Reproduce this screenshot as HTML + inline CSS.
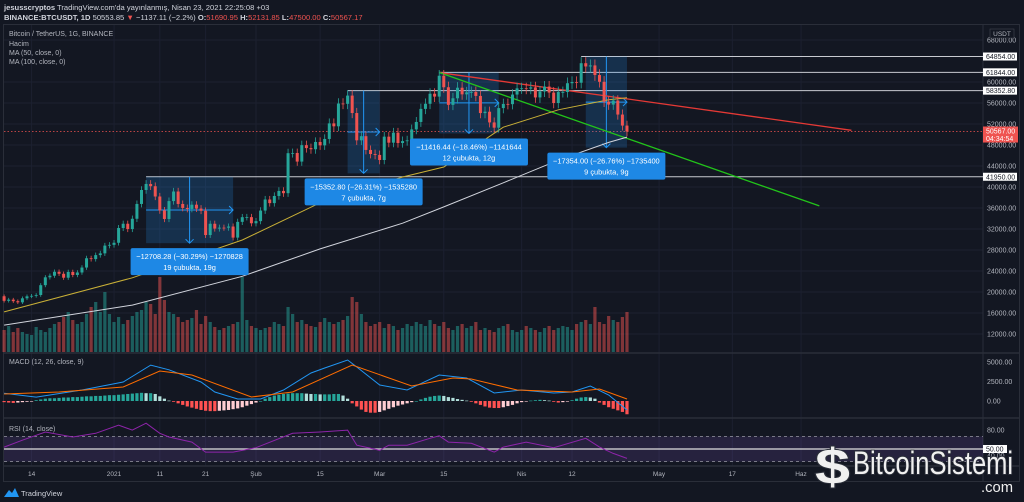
<!DOCTYPE html>
<html><head><meta charset="utf-8"><style>
html,body{margin:0;padding:0;background:#131722;}
svg{display:block;font-family:"Liberation Sans",sans-serif;}
</style></head><body>
<svg id="c" width="1024" height="502" viewBox="0 0 1024 502" xmlns="http://www.w3.org/2000/svg">
<rect x="0" y="0" width="1024" height="502" fill="#131722"/>
<text x="4" y="10" font-size="7.6" fill="#d1d4dc"><tspan font-weight="bold">jesusscryptos</tspan> TradingView.com'da yayınlanmış, Nisan 23, 2021 22:25:08 +03</text>
<text x="4" y="20" font-size="7.6" fill="#d1d4dc"><tspan font-weight="bold">BINANCE:BTCUSDT, 1D</tspan> 50553.85 <tspan fill="#ef5350">▼</tspan> −1137.11 (−2.2%) <tspan font-weight="bold">O:</tspan><tspan fill="#ef5350">51690.95</tspan> <tspan font-weight="bold">H:</tspan><tspan fill="#ef5350">52131.85</tspan> <tspan font-weight="bold">L:</tspan><tspan fill="#ef5350">47500.00</tspan> <tspan font-weight="bold">C:</tspan><tspan fill="#ef5350">50567.17</tspan></text>
<rect x="3.5" y="24.5" width="1016" height="457" fill="none" stroke="#2a2e39"/>
<g id="grid"></g>
<g id="rsiband"></g>
<g id="vol"></g>
<g id="draw"></g>
<g id="ma"></g>
<g id="candles"></g>
<g id="macd"></g>
<g id="rsi"></g>
<g id="labels"></g>
<g id="axis"></g>
<g font-size="7" fill="#b2b5be">
<text x="9" y="36">Bitcoin / TetherUS, 1G, BINANCE</text>
<text x="9" y="46">Hacim</text>
<text x="9" y="55">MA (50, close, 0)</text>
<text x="9" y="64">MA (100, close, 0)</text>
<text x="9" y="364">MACD (12, 26, close, 9)</text>
<text x="9" y="431">RSI (14, close)</text>
</g>
<g>
<path d="M4 497 L9 490 L12 493 L15 488 L19 497 Z" fill="#2196f3"/>
<text x="21" y="496" font-size="7.5" fill="#d1d4dc">TradingView</text>
</g>
<g>
<text x="815" y="484" font-size="50" font-weight="bold" fill="#f0f0f0" stroke="#2a2e39" stroke-width="2" paint-order="stroke" textLength="35" lengthAdjust="spacingAndGlyphs">$</text>
<text x="853" y="474" font-size="32" fill="#f0f0f0" stroke="#2a2e39" stroke-width="2" paint-order="stroke" textLength="160" lengthAdjust="spacingAndGlyphs">BitcoinSistemi</text>
<text x="981" y="492" font-size="15" fill="#f0f0f0" textLength="32" lengthAdjust="spacingAndGlyphs">.com</text>
</g>
</svg>
<script>
// ---- data ----
const closes=[18320,18550,18250,18030,18800,19170,19270,19430,21300,22800,23100,23850,23470,22720,23820,23240,23720,24660,26430,26270,27030,27360,28840,28980,29380,32190,33000,31990,33950,36770,39430,40580,40150,38190,35540,33910,37320,39140,36770,36010,35820,36630,35890,35470,30850,33000,32080,32260,32250,32470,30360,33360,34250,34260,33090,33500,35510,37620,36930,38290,39250,38820,46440,46480,44840,47970,47410,47190,48580,47930,49150,52120,51560,55900,55840,57410,54090,48890,49680,47060,46280,46110,45140,49590,48440,50350,48370,48750,48880,50970,52390,54880,55850,57770,57220,61190,59000,55640,56900,58910,57650,58030,58100,57350,54080,54340,52300,51300,55030,55820,55780,57610,58790,58800,58730,58980,57060,58200,59130,57990,56000,58090,58090,59770,60000,59860,63580,62960,63160,61330,60040,56250,55700,56470,53800,51700,50567];
const firstOpen=19190;
const volumes=[22,26,20,24,20,18,17,25,22,20,24,28,30,35,40,32,28,30,38,45,50,40,60,38,30,35,28,32,36,40,42,50,48,38,75,52,40,38,35,30,32,34,42,28,36,30,25,22,24,26,28,30,75,32,26,24,22,24,25,30,28,26,45,38,30,32,28,26,25,30,34,30,28,30,32,36,55,50,38,30,26,28,30,24,28,26,22,24,28,26,30,28,26,32,28,26,30,24,22,26,28,24,26,30,22,24,22,20,24,26,28,22,20,22,26,24,22,20,24,26,22,24,26,25,22,28,30,32,28,45,30,28,36,32,30,35,40];
const maDays=[0,28,52,69,87,96,109,121,132,136];
const ma50=[16200,22700,29900,37000,41900,43800,51400,54700,56600,57000];
const ma100=[13700,17500,23000,28200,33100,36200,40800,45100,48500,49500];
const macdDays=[0,7,17,26,32,36,43,46,51,56,61,67,70,75,77,82,88,95,101,107,113,120,124,128,132,136];
const macdLine=[1000,500,1410,2440,4600,4000,2440,1150,260,260,1410,3590,4230,5260,4360,2050,1410,3330,2950,1030,1410,1030,1150,1920,770,-1150];
const sigDays=[0,12,26,34,41,54,63,76,89,98,102,112,124,130,136];
const sigLine=[900,1150,1800,3850,3330,510,1150,4610,1920,2950,2820,1410,1150,1540,260];
const hist=[-150,-200,-250,-200,-150,-100,-50,100,200,300,350,350,400,450,450,500,500,550,600,600,650,650,700,750,750,800,850,900,950,1000,1050,1000,1000,900,600,300,50,-100,-300,-500,-700,-850,-1000,-1150,-1250,-1300,-1300,-1250,-1200,-1150,-1050,-950,-800,-600,-400,-200,0,300,500,700,800,900,950,1000,1000,1000,950,900,900,850,850,850,900,900,700,300,-300,-700,-1100,-1400,-1500,-1500,-1400,-1200,-1000,-800,-600,-450,-300,-150,0,200,400,550,650,700,650,500,400,250,150,50,-100,-300,-500,-700,-850,-900,-900,-800,-650,-500,-300,-150,-50,50,100,150,100,50,-100,-200,-150,-50,100,300,450,500,450,300,-200,-500,-800,-1000,-1200,-1400,-1700];
const rsiDays=[0,4,9,15,20,25,28,31,34,36,41,44,50,55,63,69,75,77,82,84,88,93,95,97,102,107,109,114,120,127,130,133,136];
const rsiVals=[53,64,77,69,75,88,80,91,75,69,61,45,45,52,75,77,80,56,48,56,56,67,71,61,59,45,53,61,52,67,53,43,35];
const priceTicks=[68000,60000,56000,52000,48000,44000,40000,36000,32000,28000,24000,20000,16000,12000];
const macdTicks=[5000,2500,0];
const rsiTicks=[80,40];
const hLevels=[64854,61844,58352.8,41950];
const hLevelStart=[126,95,75,31];
const timeLabels=["14","2021","11","21","Şub","15","Mar","15","Nis","12","May","17","Haz"];
const timeDays=[6,24,34,44,55,69,82,96,113,124,143,159,174];
const boxStart=[31,75,95,127];
const boxEnd=[50,82,108,136];
const boxTop=[41950,58352.8,61844,64854];
const boxBot=[29300,42600,50200,47500];
const boxText1=["−12708.28 (−30.29%) −1270828","−15352.80 (−26.31%) −1535280","−11416.44 (−18.46%) −1141644","−17354.00 (−26.76%) −1735400"];
const boxText2=["19 çubukta, 19g","7 çubukta, 7g","12 çubukta, 12g","9 çubukta, 9g"];
const redLine=[95,61800,185,50800];
const greenLine=[95,61800,178,36400];

// ---- scales ----
const X=i=>4.1+i*4.58;
const PY=p=>334-(p-12000)/4000*21;
const MY=v=>401-v/2500*19.5;
const RY=v=>449-(v-50)*0.63;
const VB=352;
const NS='http://www.w3.org/2000/svg';
function mk(tag,parent,attrs){const e=document.createElementNS(NS,tag);for(const k in attrs)e.setAttribute(k,attrs[k]);document.getElementById(parent).appendChild(e);return e;}

for(const t of priceTicks){const e=mk('line','grid',{x1:4,x2:983,y1:PY(t),y2:PY(t),stroke:'#1c2030','stroke-width':1});

}
for(const d of timeDays){const e=mk('line','grid',{x1:X(d),x2:X(d),y1:25,y2:466,stroke:'#1c2030','stroke-width':1});

}
for(const y of [353,418,466]){const e=mk('line','grid',{x1:4,x2:1019,y1:y,y2:y,stroke:'#2a2e39','stroke-width':1.5});

}
{const e=mk('line','grid',{x1:983,x2:983,y1:25,y2:481,stroke:'#2a2e39'});

}

{const e=mk('rect','rsiband',{x:4,y:RY(70),width:979,height:RY(30)-RY(70),fill:'#7e57c2','fill-opacity':0.18});

}
for(const v of [70,30]){const e=mk('line','rsiband',{x1:4,x2:983,y1:RY(v),y2:RY(v),stroke:'#9598a1','stroke-dasharray':'3,3','stroke-width':0.8});

}

closes.forEach((c,i)=>{
  const o=i===0?firstOpen:closes[i-1];
  const up=c>=o;const col=up?'#26a69a':'#ef5350';
  const hi=Math.max(o,c)*1.018,lo=Math.min(o,c)*0.982;
  const x=X(i);
  const v=mk('rect','vol',{x:x-1.6,y:VB-volumes[i],width:3.2,height:volumes[i],fill:col,'fill-opacity':0.5});
  
  
  const w=mk('line','candles',{x1:x,x2:x,y1:PY(hi),y2:PY(lo),stroke:col,'stroke-width':0.8});
  
  
  const b=mk('rect','candles',{x:x-1.5,y:PY(Math.max(o,c)),width:3,height:Math.max(0.8,PY(Math.min(o,c))-PY(Math.max(o,c))),fill:col});
  
  
});

function poly(parent,days,vals,yf,col,name,sw){
  const pts=days.map((d,k)=>X(d).toFixed(1)+','+yf(vals[k]).toFixed(1)).join(' ');
  const e=mk('polyline',parent,{points:pts,fill:'none',stroke:col,'stroke-width':sw||1});
  
  
}
poly('ma',maDays,ma50,PY,'#c9b037','ma50-line');
poly('ma',maDays,ma100,PY,'#d1d4dc','ma100-line');

{const e=mk('line','draw',{x1:4,x2:983,y1:PY(closes[closes.length-1]),y2:PY(closes[closes.length-1]),stroke:'#ef5350','stroke-dasharray':'1.5,2','stroke-width':0.8});

}
hLevels.forEach((p,k)=>{const e=mk('line','draw',{x1:X(hLevelStart[k]),x2:983,y1:PY(p),y2:PY(p),stroke:'#c8cad0','stroke-width':1});

});
boxStart.forEach((s,k)=>{
  const x1=X(s),x2=X(boxEnd[k]),y1=PY(boxTop[k]),y2=PY(boxBot[k]);
  const r=mk('rect','draw',{x:x1,y:y1,width:x2-x1,height:y2-y1,fill:'#2196f3','fill-opacity':0.2});
  
  
  const mx=(x1+x2)/2,my=(y1+y2)/2;
  const a=mk('path','draw',{d:`M${mx} ${y1}V${y2}M${mx-4} ${y2-4}L${mx} ${y2}L${mx+4} ${y2-4}M${x1} ${my}H${x2}M${x2-4} ${my-4}L${x2} ${my}L${x2-4} ${my+4}`,stroke:'#2196f3',fill:'none','stroke-width':1});
  
  
  const lw=118,lx=mx-lw/2,ly=y2+5;
  const lb=mk('rect','labels',{x:lx,y:ly,width:lw,height:27,rx:2,fill:'#1e88e5'});
  
  
  const t1=mk('text','labels',{x:mx,y:ly+11,'font-size':7.4,fill:'#fff','text-anchor':'middle'});t1.textContent=boxText1[k];
  
  
  const t2=mk('text','labels',{x:mx,y:ly+22,'font-size':7.4,fill:'#fff','text-anchor':'middle'});t2.textContent=boxText2[k];
  
  
});
[[redLine,'#e53935','red-trendline'],[greenLine,'#22c41a','green-trendline']].forEach(([L,col,n])=>{
  const e=mk('line','draw',{x1:X(L[0]),y1:PY(L[1]),x2:X(L[2]),y2:PY(L[3]),stroke:col,'stroke-width':1.3});
  
  
});

hist.forEach((h,i)=>{
  const prev=i?hist[i-1]:h;
  const col=h>=0?(h>=prev?'#26a69a':'#b2dfdb'):(h<=prev?'#ff5252':'#ffcdd2');
  const y0=MY(0),y1=MY(h);
  const e=mk('rect','macd',{x:X(i)-1.6,y:Math.min(y0,y1),width:3.2,height:Math.max(0.6,Math.abs(y1-y0)),fill:col});
  
  
});
poly('macd',macdDays,macdLine,MY,'#2196f3','macd-line');
poly('macd',sigDays,sigLine,MY,'#ff6d00','signal-line');

{const e=mk('line','rsi',{x1:4,x2:983,y1:RY(50),y2:RY(50),stroke:'#e0e0e0','stroke-width':1.3});

}
poly('rsi',rsiDays,rsiVals,RY,'#8e24aa','rsi-line');

function txt(parent,x,y,s,attrs,name){const e=mk('text',parent,Object.assign({x:x,y:y,'font-size':7,fill:'#b2b5be'},attrs||{}));e.textContent=s;

return e;}
priceTicks.forEach(t=>txt('axis',987,PY(t)+2.5,t.toFixed(2),{},'price-tick-label'));
macdTicks.forEach(t=>txt('axis',987,MY(t)+2.5,t.toFixed(2),{},'macd-tick-label'));
rsiTicks.forEach(t=>txt('axis',987,RY(t)+2.5,t.toFixed(2),{},'rsi-tick-label'));
timeLabels.forEach((s,k)=>txt('axis',X(timeDays[k]),476,s,{'text-anchor':'middle','font-size':6.5},'time-tick-label'));
{const r=mk('rect','axis',{x:990,y:29,width:24,height:9,fill:'#131722',stroke:'#434651','stroke-width':0.6});


txt('axis',1002,36,'USDT',{'text-anchor':'middle','font-size':6.5},'currency-label');}
hLevels.forEach(p=>{
  const y=PY(p);
  const r=mk('rect','axis',{x:983,y:y-4,width:34,height:8,fill:'#fff'});
  
  
  txt('axis',986,y+2.5,p.toFixed(2),{fill:'#131722'},'level-price-text');
});
{const y=RY(50);const r=mk('rect','axis',{x:983,y:y-4,width:24,height:8,fill:'#fff'});


txt('axis',986,y+2.5,'50.00',{fill:'#131722'},'rsi-level-text');}
{const last=closes[closes.length-1];const y=PY(last);
const r=mk('rect','axis',{x:983,y:y-5,width:35,height:16,fill:'#ef5350'});


txt('axis',986,y+2,last.toFixed(2),{fill:'#fff'},'last-price-text');
txt('axis',986,y+9.5,'04:34:54',{fill:'#fff'},'countdown-text');}
</script>
</body></html>
